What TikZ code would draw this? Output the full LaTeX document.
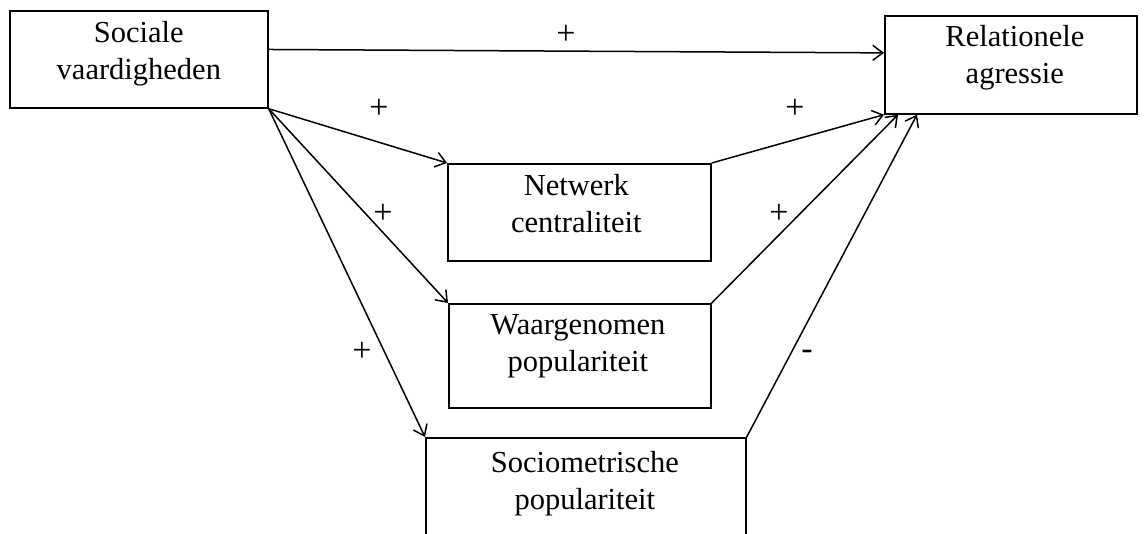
\documentclass[tikz,border=0pt]{standalone}
\usepackage{fontspec}
\setmainfont{Liberation Serif}
\usetikzlibrary{arrows.meta,calc}
\begin{document}
\begin{tikzpicture}[x=1pt,y=-1pt,
  box/.style={draw,line width=1.7pt,inner sep=0pt,anchor=north west},
  lbl/.style={font=\fontsize{30.5}{37}\selectfont,align=center,anchor=base,inner sep=0pt},
  sgn/.style={font=\fontsize{34}{36}\selectfont,inner sep=0pt},
  arr/.style={line width=1.5pt,-{Straight Barb[length=10pt,width=15pt,line width=1.5pt]}}]
\useasboundingbox (0,0) rectangle (1144,534);
\clip (0,0) rectangle (1144,534);
\node[box,minimum width=258pt,minimum height=97pt] (soc) at (9,10) {};
\node[box,minimum width=252pt,minimum height=98pt] (rel) at (884,15) {};
\node[box,minimum width=263pt,minimum height=97pt] (net) at (447,163) {};
\node[box,minimum width=262pt,minimum height=104pt] (waar) at (448,303) {};
\node[box,minimum width=320pt,minimum height=130pt] (socio) at (425,437) {};
\node[lbl] (tsoc) at ($(soc.north)+(0,70)$) {Sociale\\vaardigheden};
\node[lbl] (trel) at ($(rel.north)+(4,69)$) {Relationele\\agressie};
\node[lbl] (tnet) at ($(net.north)+(-3,70)$) {Netwerk\\centraliteit};
\node[lbl] (twaar) at ($(waar.north)+(-2,69)$) {Waargenomen\\populariteit};
\node[lbl] (tsocio) at ($(socio.north)+(-1,73)$) {Sociometrische\\populariteit};
\draw[arr] ($(soc.north east)!0.4!(soc.south east)$) -- ($(rel.north west)!0.38!(rel.south west)$);
\draw[arr] (soc.south east) -- (net.north west);
\draw[arr] (soc.south east) -- (waar.north west);
\draw[arr] (soc.south east) -- (socio.north west);
\draw[arr] (net.north east) -- (rel.south west);
\draw[arr] (waar.north east) -- ($(rel.south west)+(14,0)$);
\draw[arr] (socio.north east) -- ($(rel.south west)+(33,0)$);
\node[sgn] (p1) at (566,35) {+};
\node[sgn] (p2) at (379,109) {+};
\node[sgn] (p3) at (383,214) {+};
\node[sgn] (p4) at (362,352) {+};
\node[sgn] (p5) at (795,109) {+};
\node[sgn] (p6) at (779,214) {+};
\node[sgn] (m1) at (807,355) {-};
\end{tikzpicture}
\end{document}
